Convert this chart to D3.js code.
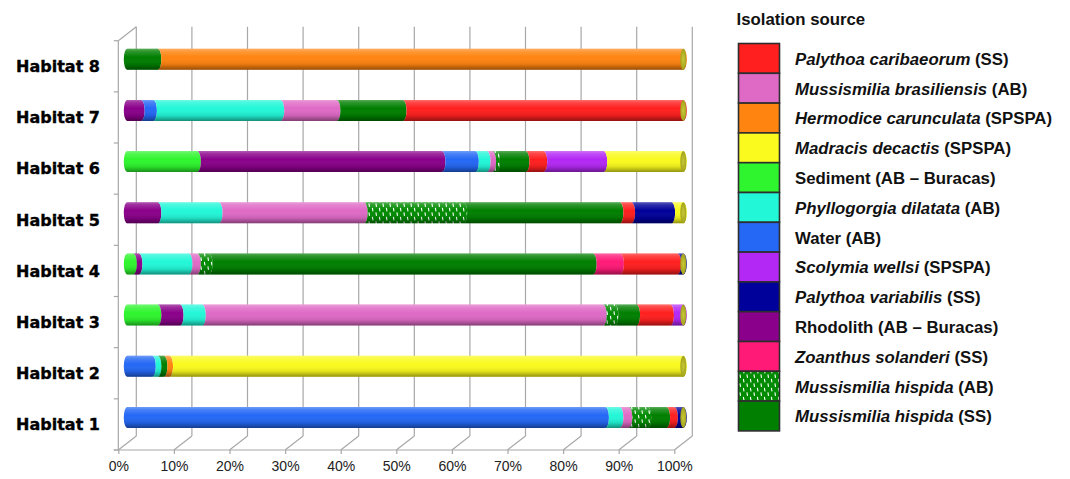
<!DOCTYPE html>
<html>
<head>
<meta charset="utf-8">
<script src="https://cdn.jsdelivr.net/npm/d3@7"></script>
<style>
  html, body { margin: 0; padding: 0; background: #fff; }
  svg { display: block; }
</style>
</head>
<body>
<svg id="chart" width="1070" height="479"></svg>
<script>
// Habitats, bottom to top
const habitats = ["Habitat 1", "Habitat 2", "Habitat 3", "Habitat 4", "Habitat 5", "Habitat 6", "Habitat 7", "Habitat 8"];

// Share of isolates (%) per source, one value per habitat (Habitat 1 .. Habitat 8)
const sediment        = [0,    0,    5.5,  1.1,  0,    12.6, 0,    0];
const rhodolith       = [0,    0,    4.0,  1.0,  5.5,  44.0, 2.5,  0];
const water           = [86.0, 4.5,  0,    0,    0,    6.0,  2.2,  0];
const phyllogorgia    = [2.6,  1.0,  4.0,  9.0,  11.0, 2.1,  22.9, 0];
const mBrasiliensis   = [1.6,  0,    72.1, 1.5,  26.1, 1.0,  10.1, 0];
const mHispidaAB      = [3.4,  0,    2.1,  2.1,  17.9, 0.7,  0,    0];
const mHispidaSS      = [3.4,  1.1,  3.9,  69.1, 28.1, 5.3,  11.9, 5.5];
const zoanthus        = [0,    0,    0,    4.9,  0,    0,    0,    0];
const pCaribaeorum    = [1.4,  0,    6.1,  10.3, 2.1,  3.2,  50.4, 0];
const hermodice       = [0,    1.0,  0,    0,    0,    0,    0,    94.5];
const scolymia        = [0,    0,    2.3,  0,    0,    10.8, 0,    0];
const pVariabilis     = [1.6,  0,    0,    1.0,  7.2,  0,    0,    0];
const madracis        = [0,    92.4, 0,    0,    2.1,  14.3, 0,    0];

// Axis tick labels
const xTicks = [0, 0.1, 0.2, 0.3, 0.4, 0.5, 0.6, 0.7, 0.8, 0.9, 1];

// Series keys in stacking order (left to right along each bar)
const stackOrder = ["sediment", "rhodolith", "water", "phyllogorgia", "mBrasiliensis", "mHispidaAB",
                    "mHispidaSS", "zoanthus", "pCaribaeorum", "hermodice", "scolymia", "pVariabilis", "madracis"];

// Legend order, with the italic species part and the plain site part of each label
const legendKeys    = ["pCaribaeorum", "mBrasiliensis", "hermodice", "madracis", "sediment", "phyllogorgia",
                       "water", "scolymia", "pVariabilis", "rhodolith", "zoanthus", "mHispidaAB", "mHispidaSS"];
const legendSpecies = ["Palythoa caribaeorum", "Mussismilia brasiliensis", "Hermodice carunculata", "Madracis decactis",
                       "", "Phyllogorgia dilatata", "", "Scolymia wellsi", "Palythoa variabilis", "",
                       "Zoanthus solanderi", "Mussismilia hispida", "Mussismilia hispida"];
const legendSite    = ["(SS)", "(AB)", "(SPSPA)", "(SPSPA)", "Sediment (AB – Buracas)", "(AB)",
                       "Water (AB)", "(SPSPA)", "(SS)", "Rhodolith (AB – Buracas)", "(SS)", "(AB)", "(SS)"];

const seriesValues = { sediment, rhodolith, water, phyllogorgia, mBrasiliensis, mHispidaAB, mHispidaSS,
                       zoanthus, pCaribaeorum, hermodice, scolymia, pVariabilis, madracis };

const colors = {
  pCaribaeorum: "#ff1f1f",
  mBrasiliensis: "#df6ac6",
  hermodice: "#ff8410",
  madracis: "#fafa1e",
  sediment: "#2ef52e",
  phyllogorgia: "#22f7d8",
  water: "#2468f5",
  scolymia: "#b428f5",
  pVariabilis: "#00009a",
  rhodolith: "#8a008a",
  zoanthus: "#ff1a78",
  mHispidaAB: "url(#dashGreen)",
  mHispidaSS: "#007f00"
};

const svg = d3.select("#chart");
const defs = svg.append("defs");

// Cylinder shading: light along the top, dark along the bottom
const shade = defs.append("linearGradient").attr("id", "shade")
  .attr("x1", 0).attr("y1", 0).attr("x2", 0).attr("y2", 1);
[[0, "#fff", 0.35], [0.12, "#fff", 0.18], [0.4, "#fff", 0.0], [0.75, "#000", 0.1], [1, "#000", 0.42]]
  .forEach(([o, c, a]) => shade.append("stop").attr("offset", o).attr("stop-color", c).attr("stop-opacity", a));

const capGrad = defs.append("radialGradient").attr("id", "capGrad");
capGrad.append("stop").attr("offset", 0).attr("stop-color", "#c8c83a");
capGrad.append("stop").attr("offset", 1).attr("stop-color", "#a3a31c");

// Dashed green fill for Mussismilia hispida (AB)
function dashPattern(id) {
  const p = defs.append("pattern").attr("id", id).attr("patternUnits", "userSpaceOnUse")
    .attr("width", 7).attr("height", 9);
  p.append("rect").attr("width", 7).attr("height", 9).attr("fill", "#008a00");
  p.append("line").attr("x1", 1.4).attr("y1", 0.8).attr("x2", 2.0).attr("y2", 4.4)
    .attr("stroke", "#fff").attr("stroke-width", 1.1);
  p.append("line").attr("x1", 4.9).attr("y1", 5.3).attr("x2", 5.5).attr("y2", 8.9)
    .attr("stroke", "#fff").attr("stroke-width", 1.1);
}
dashPattern("dashGreen");

// 3D box geometry: front plane, back plane and bars at mid depth
const depthX = 18, depthY = -14;
const xFront = d3.scaleLinear().domain([0, 1]).range([118.3, 674.3]);
const xBack = v => xFront(v) + depthX;
const xBar = v => xFront(v) + depthX / 2;
const yFront = d3.scaleBand().domain(habitats.slice().reverse()).range([40.7, 450]).padding(0);
const floorY = 450, topY = 40.7;
const barH = 21, rx = 3.5, ry = barH / 2;

const grid = svg.append("g").attr("stroke", "#a8a8a8").attr("stroke-width", 1.2).attr("fill", "none");

// back wall verticals
grid.selectAll(".back").data(xTicks).join("line")
  .attr("x1", d => xBack(d)).attr("x2", d => xBack(d))
  .attr("y1", topY + depthY).attr("y2", floorY + depthY);
// floor diagonals
grid.selectAll(".floor").data(xTicks).join("line")
  .attr("x1", d => xFront(d)).attr("x2", d => xBack(d))
  .attr("y1", floorY).attr("y2", floorY + depthY);
// left wall
grid.append("line").attr("x1", xFront(0)).attr("x2", xFront(0)).attr("y1", topY).attr("y2", floorY);
grid.append("line").attr("x1", xFront(0)).attr("x2", xBack(0)).attr("y1", topY).attr("y2", topY + depthY);
// category ticks at band edges
const edges = d3.range(habitats.length + 1).map(k => yFront.range()[0] + k * yFront.bandwidth());
grid.selectAll(".ctick").data(edges).join("line")
  .attr("x1", xFront(0) - 4.5).attr("x2", xFront(0)).attr("y1", d => d).attr("y2", d => d);

// bottom axis
const xAxis = d3.axisBottom(xFront).tickValues(xTicks).tickFormat(d3.format(".0%"))
  .tickSize(4).tickSizeOuter(0).tickPadding(7);
const gx = svg.append("g").attr("transform", `translate(0,${floorY})`).call(xAxis);
gx.select(".domain").attr("stroke", "#a8a8a8").attr("stroke-width", 1.2).attr("d", `M${xFront(0) - 4.5},0H${xFront(1)}`);
gx.selectAll(".tick line").attr("stroke", "#a8a8a8").attr("stroke-width", 1.2);
gx.selectAll(".tick text").attr("fill", "#222").attr("font-family", "Liberation Sans, Arial, sans-serif")
  .attr("font-size", 14);

// category labels
const yAxis = d3.axisLeft(yFront).tickSize(0).tickPadding(xFront(0) - 100);
const gy = svg.append("g").attr("transform", `translate(${xFront(0)},0)`).call(yAxis);
gy.select(".domain").remove();
gy.selectAll(".tick text").attr("fill", "#000").attr("font-family", "DejaVu Sans, sans-serif")
  .attr("font-weight", "bold").attr("font-size", 16).attr("dy", "0.36em")
  .attr("stroke", "#000").attr("stroke-width", 0.35);

// stacked bars (100%)
const rows = habitats.map((h, i) => {
  const r = { habitat: h };
  stackOrder.forEach(k => { r[k] = seriesValues[k][i]; });
  return r;
});
const stacked = d3.stack().keys(stackOrder).offset(d3.stackOffsetExpand)(rows);
const barCy = h => yFront(h) + yFront.bandwidth() / 2 + depthY / 2;

function segPath(x0, x1, cy, first) {
  const t = cy - ry, b = cy + ry;
  return `M${x0},${t}L${x1},${t}A${rx},${ry} 0 0 1 ${x1},${b}L${x0},${b}A${rx},${ry} 0 0 ${first ? 1 : 0} ${x0},${t}Z`;
}

const bars = svg.append("g");
stacked.forEach(layer => {
  bars.append("g").selectAll("path")
    .data(layer.filter(d => d[1] - d[0] > 1e-9))
    .join("path")
    .attr("d", d => segPath(xBar(d[0]), xBar(d[1]), barCy(d.data.habitat), d[0] < 1e-9))
    .attr("fill", colors[layer.key]);
});

// shading over each cylinder, then the end cap
bars.selectAll(".shade").data(habitats).join("path")
  .attr("d", h => segPath(xBar(0), xBar(1), barCy(h), true))
  .attr("fill", "url(#shade)");
bars.selectAll(".cap").data(habitats).join("ellipse")
  .attr("cx", xBar(1)).attr("cy", h => barCy(h)).attr("rx", 3).attr("ry", ry)
  .attr("fill", "url(#capGrad)");

// legend
const legend = svg.append("g").attr("font-family", "Liberation Sans, Arial, sans-serif")
  .attr("font-weight", "bold").attr("font-size", 16.8).attr("fill", "#111");
legend.append("text").attr("x", 736.5).attr("y", 19).attr("dy", "0.35em").text("Isolation source");

const swTop = 43.5, swH = 29.8, swX = 738.5, swW = 41;
const items = legend.selectAll(".item").data(legendKeys).join("g");
items.append("rect")
  .attr("x", swX).attr("y", (d, i) => swTop + i * swH).attr("width", swW).attr("height", swH)
  .attr("fill", d => colors[d]).attr("stroke", "#2e2e2e").attr("stroke-width", 1.6);
const lt = items.append("text").attr("x", 795).attr("y", (d, i) => swTop + i * swH + swH / 2 + 0.5)
  .attr("dy", "0.35em");
lt.each(function (d, i) {
  const t = d3.select(this);
  if (legendSpecies[i]) {
    t.append("tspan").attr("font-style", "italic").text(legendSpecies[i]);
    t.append("tspan").text(" " + legendSite[i]);
  } else {
    t.append("tspan").text(legendSite[i]);
  }
});
</script>
</body>
</html>
